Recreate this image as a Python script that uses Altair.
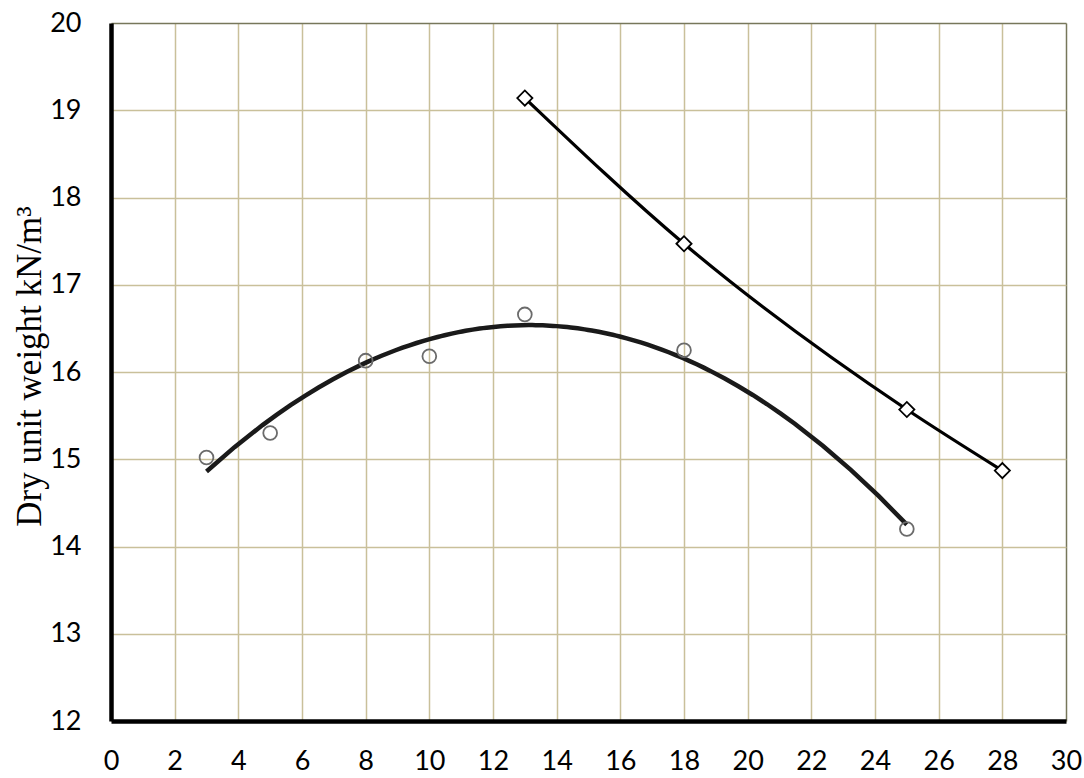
import altair as alt
import pandas as pd

# Series A (circles, with 2nd-order polynomial trend)
moisture_a = [3, 5, 8, 10, 13, 18, 25]
density_a = [15.02, 15.30, 16.13, 16.18, 16.66, 16.25, 14.20]

# Series B (diamonds, smoothed line)
moisture_b = [13, 18, 25, 28]
density_b = [19.14, 17.47, 15.57, 14.87]

x_ticks = list(range(0, 31, 2))
y_ticks = list(range(12, 21, 1))

df_a = pd.DataFrame({"x": moisture_a, "y": density_a})
df_b = pd.DataFrame({"x": moisture_b, "y": density_b})

GRID = "#C9C09A"
EDGE = "#77775B"

x_scale = alt.Scale(domain=[0, 30], nice=False, zero=False)
y_scale = alt.Scale(domain=[12, 20], nice=False, zero=False)

x_axis = alt.Axis(
    values=x_ticks, title=None, grid=True, ticks=False, format="d",
    gridColor=alt.condition("datum.value == 30", alt.value(EDGE), alt.value(GRID)),
    gridWidth=1.5,
    domainColor="black", domainWidth=4.5,
    labelFont="Lato", labelFontSize=27, labelColor="black", labelPadding=27,
    labelFlush=False,
)
y_axis = alt.Axis(
    values=y_ticks, title="Dry unit weight kN/m³", grid=True, ticks=False, format="d",
    gridColor=alt.condition("datum.value == 20", alt.value(EDGE), alt.value(GRID)),
    gridWidth=1.5,
    domainColor="black", domainWidth=4.5,
    labelFont="Lato", labelFontSize=27, labelColor="black", labelPadding=30,
    labelFlush=False,
    titleFont="Liberation Serif", titleFontSize=35, titleFontWeight="normal",
    titleColor="black", titleAngle=270, titleX=-71, titleY=343,
    titleAlign="center", titleBaseline="alphabetic",
)

base_a = alt.Chart(df_a)
base_b = alt.Chart(df_b)

trend = base_a.transform_regression(
    "x", "y", method="poly", order=2, extent=[3, 25]
).mark_line(color="#1a1a1a", strokeWidth=4.5).encode(
    x=alt.X("x:Q", scale=x_scale, axis=x_axis),
    y=alt.Y("y:Q", scale=y_scale, axis=y_axis),
)

circles = base_a.mark_point(
    shape="circle", filled=False, size=190, stroke="#6b6b6b", strokeWidth=1.8, opacity=1
).encode(
    x=alt.X("x:Q", scale=x_scale),
    y=alt.Y("y:Q", scale=y_scale),
)

line_b = base_b.mark_line(color="black", strokeWidth=3.2, interpolate="monotone").encode(
    x=alt.X("x:Q", scale=x_scale),
    y=alt.Y("y:Q", scale=y_scale),
)

diamonds = base_b.mark_point(
    shape="diamond", filled=True, fill="white", size=230, stroke="black",
    strokeWidth=1.8, opacity=1
).encode(
    x=alt.X("x:Q", scale=x_scale),
    y=alt.Y("y:Q", scale=y_scale),
)

chart = alt.layer(trend, circles, line_b, diamonds).properties(
    width=955,
    height=698,
    autosize=alt.AutoSizeParams(type="none"),
    padding={"left": 111, "top": 23, "right": 18, "bottom": 57},
    background="white",
).configure_view(stroke=None)

chart.save("out.html", embed_options={"renderer": "svg", "actions": False})
